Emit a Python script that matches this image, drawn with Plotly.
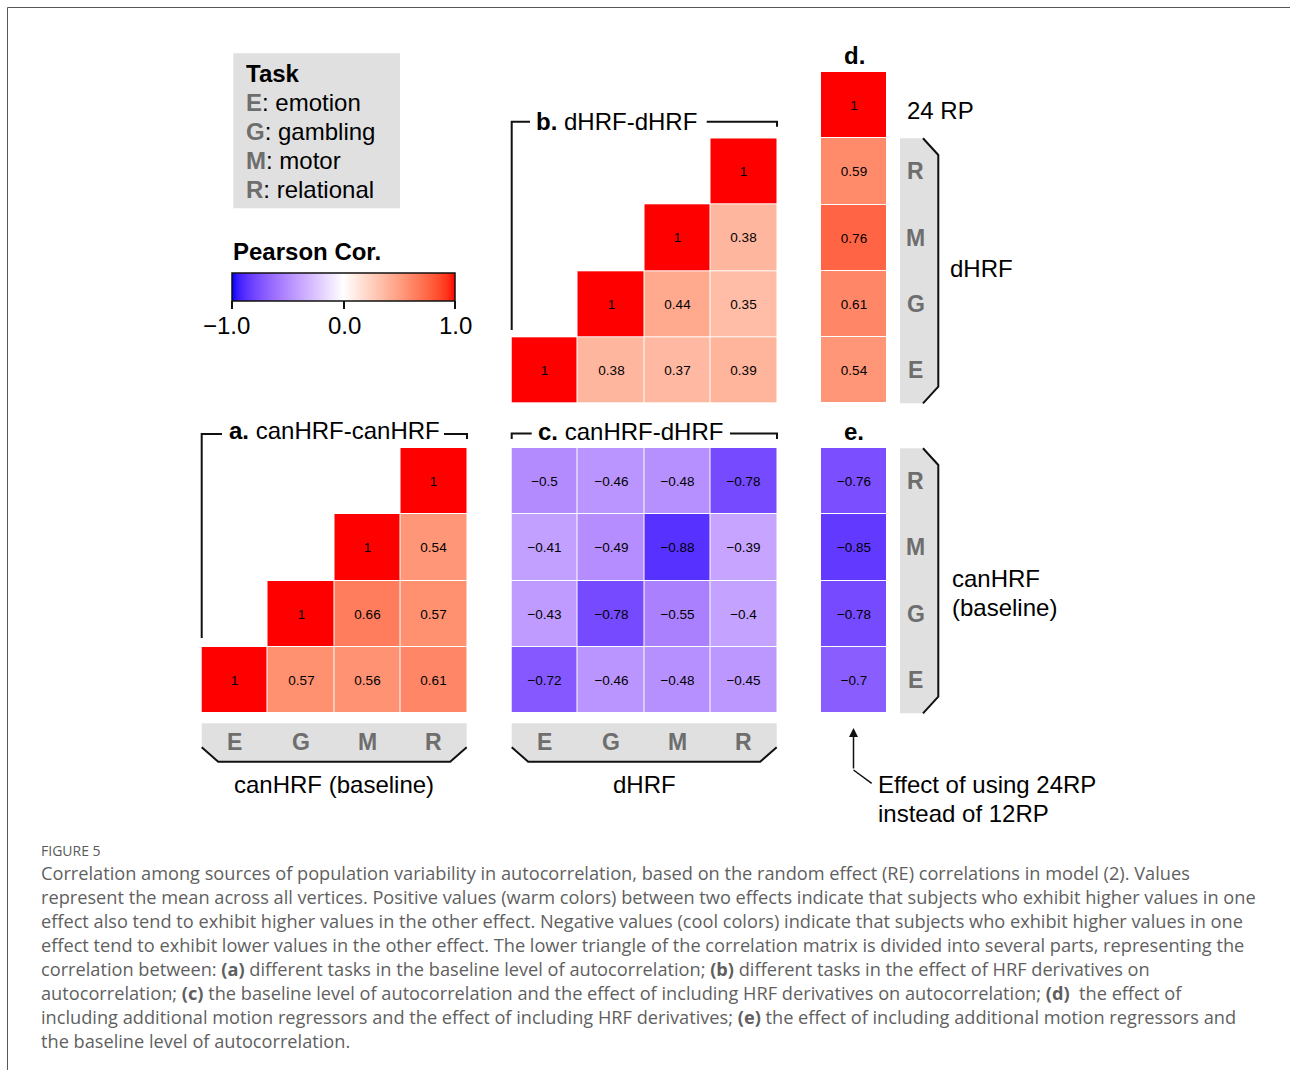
import plotly.graph_objects as go
import numpy as np

W, H = 1290, 1070
FONT = "Liberation Sans, Arial, Helvetica, sans-serif"
CAP_FONT = "Open Sans, Lato, sans-serif"

# ---- data -------------------------------------------------------------
TASKS = ["E", "G", "M", "R"]
TASK_NAMES = ["emotion", "gambling", "motor", "relational"]

# rows listed bottom (E) to top (R); columns E, G, M, R
CAN_CAN = [
    [1, 0.57, 0.56, 0.61],
    [None, 1, 0.66, 0.57],
    [None, None, 1, 0.54],
    [None, None, None, 1],
]
D_D = [
    [1, 0.38, 0.37, 0.39],
    [None, 1, 0.44, 0.35],
    [None, None, 1, 0.38],
    [None, None, None, 1],
]
CAN_D = [
    [-0.72, -0.46, -0.48, -0.45],
    [-0.43, -0.78, -0.55, -0.4],
    [-0.41, -0.49, -0.88, -0.39],
    [-0.5, -0.46, -0.48, -0.78],
]
# 24RP effect vs dHRF (E, G, M, R) and its own diagonal (24 RP)
RP24_D = [0.54, 0.61, 0.76, 0.59]
RP24_SELF = 1
# 24RP effect vs canHRF (E, G, M, R)
RP24_CAN = [-0.7, -0.78, -0.85, -0.76]

CBAR_TICKS = [-1, 0, 1]
CBAR_LABELS = ["\u22121.0", "0.0", "1.0"]

CAPTION_LINES = [
    "Correlation among sources of population variability in autocorrelation, based on the random effect (RE) correlations in model (2). Values",
    "represent the mean across all vertices. Positive values (warm colors) between two effects indicate that subjects who exhibit higher values in one",
    "effect also tend to exhibit higher values in the other effect. Negative values (cool colors) indicate that subjects who exhibit higher values in one",
    "effect tend to exhibit lower values in the other effect. The lower triangle of the correlation matrix is divided into several parts, representing the",
    "correlation between: <b>(a)</b> different tasks in the baseline level of autocorrelation; <b>(b)</b> different tasks in the effect of HRF derivatives on",
    "autocorrelation; <b>(c)</b> the baseline level of autocorrelation and the effect of including HRF derivatives on autocorrelation; <b>(d)</b>  the effect of",
    "including additional motion regressors and the effect of including HRF derivatives; <b>(e)</b> the effect of including additional motion regressors and",
    "the baseline level of autocorrelation.",
]


# ---- helpers ----------------------------------------------------------
def px(x):
    return x / W


def py(y):
    return 1 - y / H


def _lin(c):
    c = c / 255.0
    return c / 12.92 if c <= 0.04045 else ((c + 0.055) / 1.055) ** 2.4


def _gam(c):
    c = 12.92 * c if c <= 0.0031308 else 1.055 * c ** (1 / 2.4) - 0.055
    return min(255, max(0, round(c * 255)))


M_RGB2XYZ = np.array([[0.4124, 0.3576, 0.1805],
                      [0.2126, 0.7152, 0.0722],
                      [0.0193, 0.1192, 0.9505]])
WHITE_XYZ = np.array([0.95047, 1.0, 1.08883])


def rgb_to_lab(rgb):
    xyz = M_RGB2XYZ @ np.array([_lin(c) for c in rgb]) / WHITE_XYZ
    f = np.where(xyz > 216 / 24389, np.cbrt(xyz), (24389 / 27 * xyz + 16) / 116)
    return np.array([116 * f[1] - 16, 500 * (f[0] - f[1]), 200 * (f[1] - f[2])])


def lab_to_rgb(lab):
    L, a, b = lab
    fy = (L + 16) / 116
    fx = fy + a / 500
    fz = fy - b / 200
    f = np.array([fx, fy, fz])
    xyz = np.where(f ** 3 > 216 / 24389, f ** 3, (116 * f - 16) / (24389 / 27)) * WHITE_XYZ
    lin = np.linalg.solve(M_RGB2XYZ, xyz)
    return tuple(_gam(max(0.0, c)) for c in lin)


# diverging blue-white-red scale interpolated in CIELAB
LOW, MID, HIGH = rgb_to_lab((0, 0, 255)), rgb_to_lab((255, 255, 255)), rgb_to_lab((255, 0, 0))
COLORSCALE = []
for t in np.linspace(0, 1, 41):
    v = 2 * t - 1
    lab = MID + (LOW - MID) * (-v) if v < 0 else MID + (HIGH - MID) * v
    r, g, b = lab_to_rgb(lab)
    COLORSCALE.append([float(t), f"rgb({r},{g},{b})"])


def fmt(v):
    if v is None:
        return ""
    return f"{v:g}".replace("-", "\u2212")


fig = go.Figure()


def add_panel(idx, z, x0, x1, y0, y1):
    ax = "" if idx == 1 else str(idx)
    nrows, ncols = len(z), len(z[0])
    fig.add_trace(go.Heatmap(
        z=z, x=list(range(ncols)), y=list(range(nrows)),
        text=[[fmt(v) for v in row] for row in z], texttemplate="%{text}",
        textfont=dict(family=FONT, size=13.5, color="black"),
        coloraxis="coloraxis", xgap=1, ygap=1, hoverinfo="skip",
        xaxis="x" + ax, yaxis="y" + ax))
    fig.layout["xaxis" + ax] = dict(domain=[px(x0), px(x1)], range=[-0.5, ncols - 0.5],
                                    visible=False, anchor="y" + ax, fixedrange=True)
    fig.layout["yaxis" + ax] = dict(domain=[py(y1), py(y0)], range=[-0.5, nrows - 0.5],
                                    visible=False, anchor="x" + ax, fixedrange=True)


add_panel(1, CAN_CAN, 201.5, 467, 448, 713.3)
add_panel(2, D_D, 511.5, 777, 138.3, 403.3)
add_panel(3, CAN_D, 511.5, 777, 448, 713.3)
add_panel(4, [[v] for v in RP24_D] + [[RP24_SELF]], 821, 887, 72, 403.3)
add_panel(5, [[v] for v in RP24_CAN], 821, 887, 448, 713.3)

shapes = []
annotations = []


def line_path(points, width=2, color="#111111"):
    d = "M " + " L ".join(f"{px(x):.5f},{py(y):.5f}" for x, y in points)
    shapes.append(dict(type="path", path=d, xref="paper", yref="paper",
                       line=dict(color=color, width=width)))


def poly(points, fill):
    d = "M " + " L ".join(f"{px(x):.5f},{py(y):.5f}" for x, y in points) + " Z"
    shapes.append(dict(type="path", path=d, xref="paper", yref="paper",
                       fillcolor=fill, line=dict(width=0), layer="below"))


def text(x, y, s, size=24, xanchor="left", color="black", family=FONT):
    if xanchor == "left":
        x -= 2  # compensate for the annotation's inner padding
    annotations.append(dict(x=px(x), y=py(y), xref="paper", yref="paper", text=s,
                            showarrow=False, xanchor=xanchor, yanchor="middle",
                            font=dict(family=family, size=size, color=color)))


GRAY = "#e0e0e0"
LETTER = "#6e6e6e"

# outer frame
line_path([(7.5, 1070), (7.5, 7.5), (1290, 7.5)], width=1, color="#555555")

# task legend
poly([(233.3, 53.3), (400, 53.3), (400, 208.3), (233.3, 208.3)], GRAY)
text(246, 73, "<b>Task</b>")
for i, (t, name) in enumerate(zip(TASKS, TASK_NAMES)):
    text(246, 102 + 29 * i, f"<b><span style='color:{LETTER}'>{t}</span></b>: {name}")

# colour bar title and tick labels
CB_X0, CB_LEN = 232.3, 223.4
text(233, 252, "<b>Pearson Cor.</b>")
for v, lab in zip(CBAR_TICKS, CBAR_LABELS):
    cx = CB_X0 + (v - CBAR_TICKS[0]) / (CBAR_TICKS[-1] - CBAR_TICKS[0]) * CB_LEN
    if lab.startswith("\u2212"):
        cx -= 6
    text(cx, 325, lab, xanchor="center")


# horizontal task bands below panels a and c
def hband(x0, x1, xaxis):
    top, mid, bot, cut = 723.3, 747.3, 761.7, 16.5
    poly([(x0, top), (x1, top), (x1, mid), (x1 - cut, bot), (x0 + cut, bot), (x0, mid)], GRAY)
    line_path([(x0, mid), (x0 + cut, bot), (x1 - cut, bot), (x1, mid)])
    for i, t in enumerate(TASKS):
        annotations.append(dict(x=i, y=py(742), xref=xaxis, yref="paper", text=f"<b>{t}</b>",
                                showarrow=False, yanchor="middle",
                                font=dict(family=FONT, size=23, color=LETTER)))


hband(201.7, 466.7, "x")
hband(511.7, 776.7, "x3")


# vertical task bands right of panels d and e
def vband(top, bot, yaxis):
    left, right, cut = 900, 938.3, 15.3
    poly([(left, top), (right - cut, top), (right, top + 16.7), (right, bot - 16.7),
          (right - cut, bot), (left, bot)], GRAY)
    line_path([(right - cut, top), (right, top + 16.7), (right, bot - 16.7), (right - cut, bot)])
    for i, t in enumerate(TASKS):
        annotations.append(dict(x=px(915.5), y=i, xref="paper", yref=yaxis, text=f"<b>{t}</b>",
                                showarrow=False, xanchor="center",
                                font=dict(family=FONT, size=23, color=LETTER)))


vband(138.3, 403.3, "y4")
vband(448.3, 713.3, "y5")

# panel titles with brackets
line_path([(201.7, 638), (201.7, 434), (222, 434)])
line_path([(444, 434), (467, 434), (467, 439)])
text(229, 431, "<b>a.</b> canHRF-canHRF")

line_path([(511.7, 330), (511.7, 121.7), (530, 121.7)])
line_path([(706.7, 121.7), (777, 121.7), (777, 126.7)])
text(536, 121, "<b>b.</b> dHRF-dHRF")

line_path([(511.7, 439), (511.7, 433.5), (531.7, 433.5)])
line_path([(730, 433.5), (777, 433.5), (777, 439)])
text(537.7, 431.5, "<b>c.</b> canHRF-dHRF")

text(854, 56, "<b>d.</b>", xanchor="center")
text(854, 432, "<b>e.</b>", xanchor="center")

# axis group labels
text(334, 784, "canHRF (baseline)", xanchor="center")
text(644, 784, "dHRF", xanchor="center")
text(907, 110, "24 RP")
text(950, 268, "dHRF")
text(951.5, 578, "canHRF")
text(951.5, 607, "(baseline)")
text(878, 784, "Effect of using 24RP")
text(878, 813, "instead of 12RP")

# arrow pointing at panel e
annotations.append(dict(x=px(853.5), y=py(728), xref="paper", yref="paper", text="",
                        showarrow=True, ax=0, ay=42, axref="pixel", ayref="pixel",
                        arrowhead=2, arrowsize=1.2, arrowwidth=1.5, arrowcolor="#111111",
                        standoff=0, startstandoff=0))
line_path([(853.5, 770), (871.7, 783.3)], width=1.5)

# caption
text(41, 850, "FIGURE 5", size=14, color="#5a5a5a", family=CAP_FONT)
for i, ln in enumerate(CAPTION_LINES):
    text(41, 872.5 + 24 * i, ln, size=18.2, color="#5f5f5f", family=CAP_FONT)

fig.update_layout(
    width=W, height=H, autosize=False,
    margin=dict(l=0, r=0, t=0, b=0),
    paper_bgcolor="white", plot_bgcolor="white",
    showlegend=False,
    shapes=shapes, annotations=annotations,
    coloraxis=dict(
        colorscale=COLORSCALE, cmin=-1, cmax=1,
        colorbar=dict(
            orientation="h", x=px(CB_X0), xanchor="left", y=py(272.7), yanchor="top",
            len=CB_LEN, lenmode="pixels", thickness=28.3, thicknessmode="pixels",
            xpad=0, ypad=0, outlinewidth=1.5, outlinecolor="#111111",
            tickvals=CBAR_TICKS, ticks="outside", showticklabels=False,
            ticklen=8, tickwidth=1.5, tickcolor="#111111",
            title=dict(text=""),
        ),
    ),
)

fig.write_html("out.html")
